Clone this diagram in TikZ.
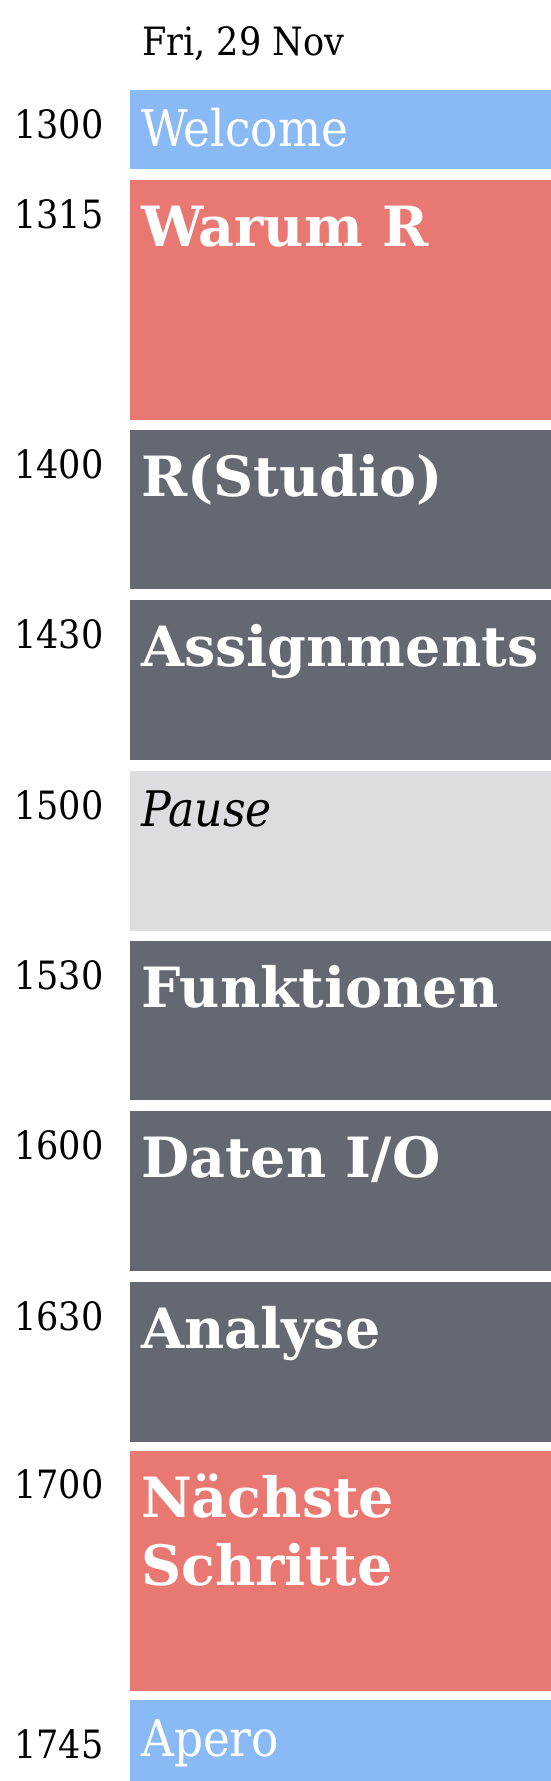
\documentclass[tikz,border=0pt]{standalone}
\usepackage{fontspec}
\setmainfont{DejaVu Serif Condensed}
\newfontfamily\titlefont{DejaVu Serif}
\usetikzlibrary{positioning}
\definecolor{welcomeblue}{HTML}{8ABAF5}
\definecolor{talkred}{HTML}{E97872}
\definecolor{blockgray}{HTML}{646871}
\definecolor{pausegray}{HTML}{DCDDE0}

\begin{document}
\begin{tikzpicture}[x=1pt,y=-1pt,
  slot/.style={anchor=north west,inner sep=0pt,outer sep=0pt,minimum width=421pt},
  timelabel/.style={anchor=base west,inner sep=0pt,font=\fontsize{39}{39}\selectfont},
  bigtitle/.style={anchor=base west,inner sep=0pt,text=white,align=left,font=\titlefont\fontsize{55.5}{68}\selectfont\bfseries},
  smalltitle/.style={anchor=base west,inner sep=0pt,text=white,font=\fontsize{50.5}{50.5}\selectfont}]
\useasboundingbox (0,0) rectangle (551,1781);
\node [timelabel] (day) at (142,55) {Fri, 29 Nov};
\node [slot,fill=welcomeblue,minimum height=79pt] (welcome) at (130,90) {};
\node [slot,fill=talkred,minimum height=240pt] (warum) at (130,180) {};
\node [slot,fill=blockgray,minimum height=159pt] (rstudio) at (130,430) {};
\node [slot,fill=blockgray,minimum height=160pt] (assign) at (130,600) {};
\node [slot,fill=pausegray,minimum height=160pt] (pause) at (130,771) {};
\node [slot,fill=blockgray,minimum height=159pt] (funk) at (130,941) {};
\node [slot,fill=blockgray,minimum height=160pt] (daten) at (130,1111) {};
\node [slot,fill=blockgray,minimum height=160pt] (analyse) at (130,1282) {};
\node [slot,fill=talkred,minimum height=240pt] (naechste) at (130,1451) {};
\node [slot,fill=welcomeblue,minimum height=81pt] (apero) at (130,1700) {};
\node [timelabel] (t1300) at (14,138) {1300};
\node [timelabel] (t1315) at (14,228) {1315};
\node [timelabel] (t1400) at (14,478) {1400};
\node [timelabel] (t1430) at (14,648) {1430};
\node [timelabel] (t1500) at (14,819) {1500};
\node [timelabel] (t1530) at (14,989) {1530};
\node [timelabel] (t1600) at (14,1159) {1600};
\node [timelabel] (t1630) at (14,1330) {1630};
\node [timelabel] (t1700) at (14,1498) {1700};
\node [timelabel] (t1745) at (14,1758) {1745};
\node [smalltitle] (welcometxt) at (141,146) {Welcome};
\node [bigtitle] (warumtxt) at (141,246) {Warum R};
\node [bigtitle] (rstudiotxt) at (141,496) {R(Studio)};
\node [bigtitle] (assigntxt) at (141,666) {Assignments};
\node [smalltitle,text=black,font=\fontsize{49}{49}\selectfont\itshape] (pausetxt) at (141,826) {Pause};
\node [bigtitle] (funktxt) at (141,1007) {Funktionen};
\node [bigtitle] (datentxt) at (141,1177) {Daten I/O};
\node [bigtitle] (analysetxt) at (141,1348) {Analyse};
\node [bigtitle] (naechstetxt) at (141,1585) {Nächste\\Schritte};
\node [smalltitle] (aperotxt) at (141,1756) {Apero};
\end{tikzpicture}
\end{document}
